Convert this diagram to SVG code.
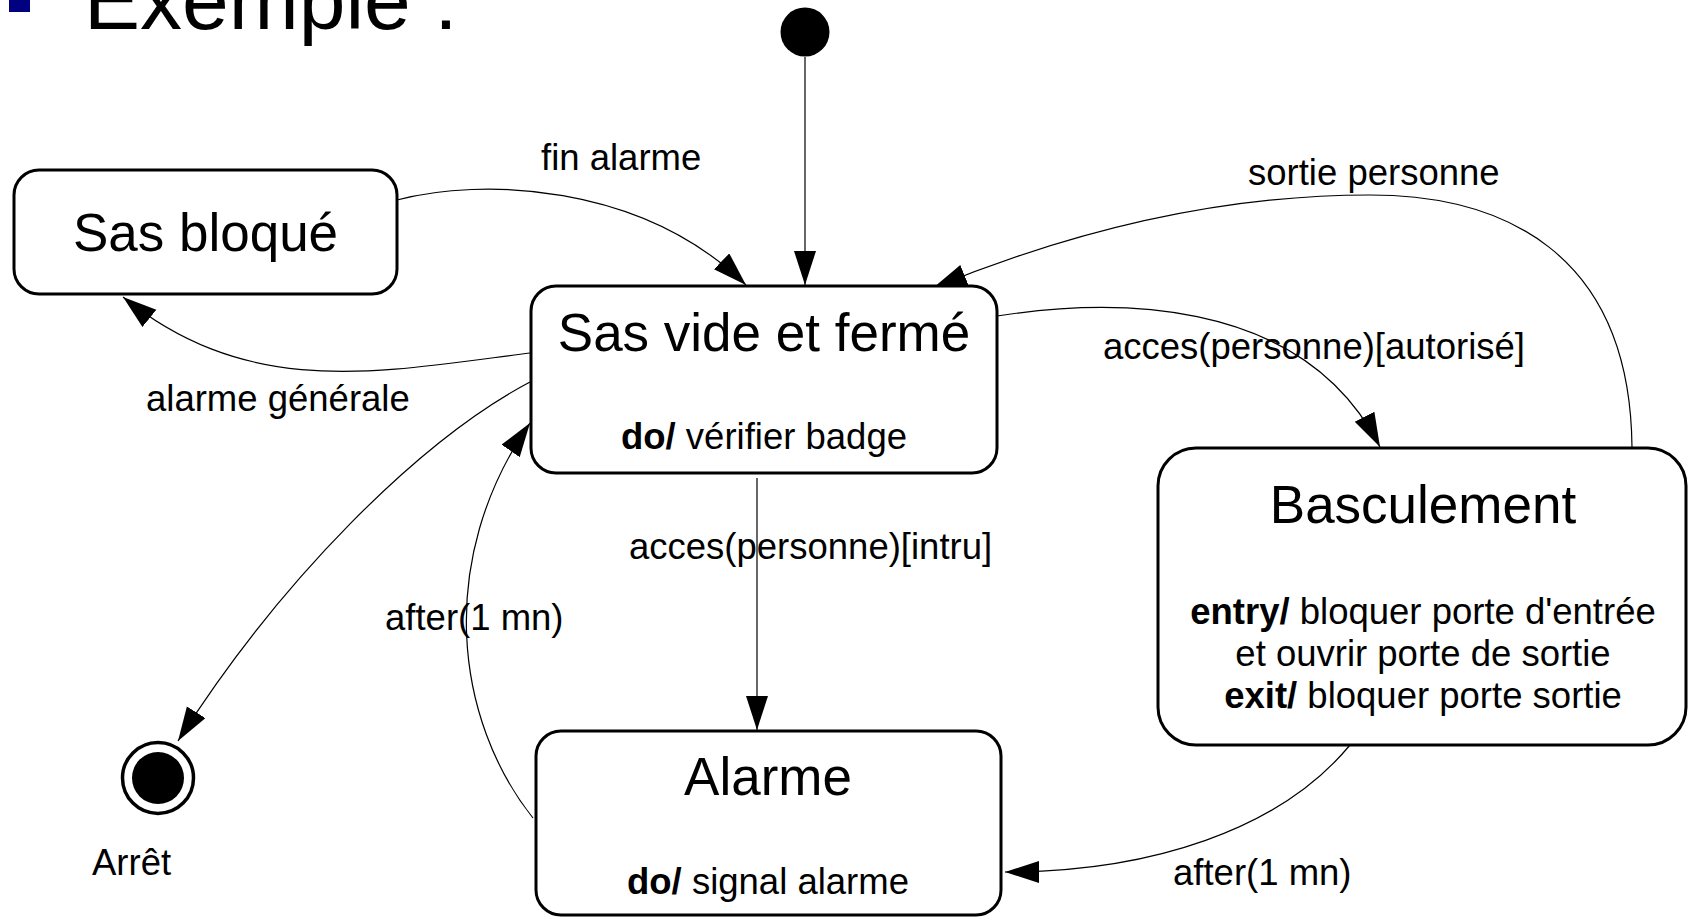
<svg xmlns="http://www.w3.org/2000/svg" width="1689" height="917" viewBox="0 0 1689 917">
<style>
  text { font-family: "Liberation Sans", Arial, sans-serif; fill: #000; }
  .state { fill: #fff; stroke: #000; stroke-width: 3; }
  .title { font-size: 53px; text-anchor: middle; }
  .act { font-size: 36.5px; text-anchor: middle; }
  .lbl { font-size: 36.5px; }
  .b { font-weight: bold; }
  .edge { fill: none; stroke: #000; stroke-width: 1.2; marker-end: url(#arr); }
</style>
<defs>
  <marker id="arr" markerUnits="userSpaceOnUse" markerWidth="36" markerHeight="24" refX="34" refY="11" orient="auto">
    <path d="M0,0 L34,11 L0,22 z" fill="#000"/>
  </marker>
</defs>
<rect width="1689" height="917" fill="#fff"/>
<g id="header">
  <rect x="9" y="-9" width="21" height="21" fill="#000080"/>
  <text x="84" y="29" style="font-size:84px">Exemple :</text>
</g>
<g id="connectors">
  <path class="edge" d="M805,57 L805,285"/>
  <path class="edge" d="M397,200 C480,178 640,182 746,285"/>
  <path class="edge" d="M530,353 C380,372 250,400 123,297"/>
  <path class="edge" d="M530,382 C420,440 280,580 178,741"/>
  <path class="edge" d="M757,478 L757,730"/>
  <path class="edge" d="M533,818 C455,720 435,560 530,423"/>
  <path class="edge" d="M997,316 C1100,300 1300,290 1380,447"/>
  <path class="edge" d="M1632,447 C1630,250 1500,195 1370,195 C1200,195 1050,240 933,288"/>
  <path class="edge" d="M1350,745 C1280,830 1150,872 1005,872"/>
  <text class="lbl" x="541" y="170">fin alarme</text>
  <text class="lbl" x="146" y="411">alarme générale</text>
  <text class="lbl" x="1248" y="185">sortie personne</text>
  <text class="lbl" x="1103" y="359">acces(personne)[autorisé]</text>
  <text class="lbl" x="629" y="559">acces(personne)[intru]</text>
  <text class="lbl" x="385" y="630">after(1 mn)</text>
  <text class="lbl" x="1173" y="885">after(1 mn)</text>
</g>
<g id="initial">
  <circle cx="805" cy="32" r="24.5" fill="#000"/>
</g>
<g id="sas-bloque">
  <rect class="state" x="14" y="170" width="383" height="124" rx="25"/>
  <text class="title" x="205.5" y="251">Sas bloqué</text>
</g>
<g id="sas-vide">
  <rect class="state" x="531" y="286" width="466" height="187" rx="25"/>
  <text class="title" x="764" y="351">Sas vide et fermé</text>
  <text class="act" x="764" y="449"><tspan class="b">do/</tspan> vérifier badge</text>
</g>
<g id="basculement">
  <rect class="state" x="1158" y="448" width="528" height="297" rx="38"/>
  <text class="title" x="1423" y="523">Basculement</text>
  <text class="act" x="1423" y="624"><tspan class="b">entry/</tspan> bloquer porte d'entrée</text>
  <text class="act" x="1423" y="666">et ouvrir porte de sortie</text>
  <text class="act" x="1423" y="708"><tspan class="b">exit/</tspan> bloquer porte sortie</text>
</g>
<g id="alarme">
  <rect class="state" x="536" y="731" width="465" height="184" rx="25"/>
  <text class="title" x="768" y="795">Alarme</text>
  <text class="act" x="768" y="894"><tspan class="b">do/</tspan> signal alarme</text>
</g>
<g id="arret">
  <circle cx="158" cy="778" r="35.5" fill="#fff" stroke="#000" stroke-width="3.5"/>
  <circle cx="158" cy="778" r="26" fill="#000"/>
  <text class="lbl" x="92" y="875">Arrêt</text>
</g>
</svg>
